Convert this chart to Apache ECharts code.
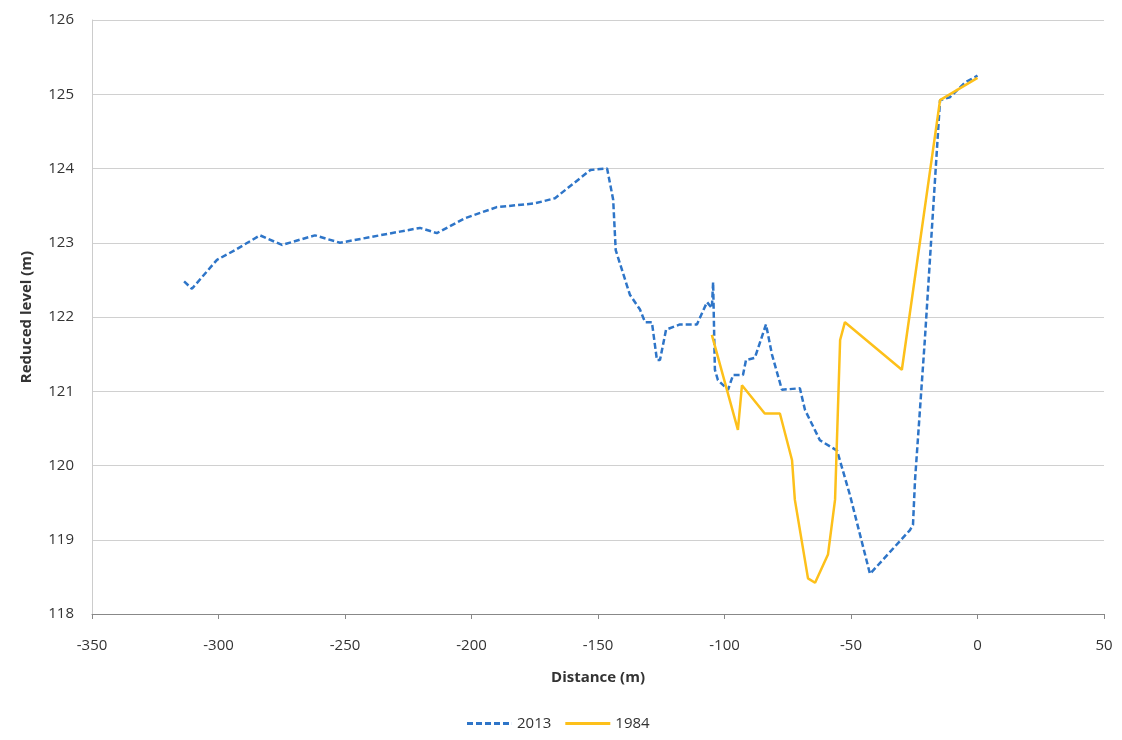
<!DOCTYPE html>
<html><head><meta charset="utf-8">
<script src="https://cdn.jsdelivr.net/npm/echarts@6/dist/echarts.min.js"></script>
<style>body{margin:0}#c{width:1122px;height:740px}</style>
</head><body><div id="c"></div>
<script>
const dist2013 = [-313.6,-310.5,-300.6,-293.5,-283.6,-274.9,-261.9,-252,-228.3,-220.4,-213.7,-202.6,-190,-175,-167,-153,-146.4,-144,-143,-137.4,-133.4,-131.4,-128.7,-126.7,-125.5,-123.1,-117.6,-110.9,-106.9,-105,-104.5,-103.8,-102.6,-98.6,-96.6,-92.7,-91.5,-88,-83.6,-81.2,-77.3,-70.2,-68.2,-62.3,-55.5,-50.4,-42.5,-26.7,-25.5,-24.7,-20.8,-14.8,-10.9,-4.9,0];
const level2013 = [122.48,122.38,122.77,122.9,123.1,122.97,123.1,123.0,123.15,123.2,123.13,123.33,123.48,123.53,123.6,123.98,124.0,123.58,122.9,122.3,122.1,121.93,121.93,121.42,121.42,121.83,121.9,121.9,122.2,122.12,122.47,121.29,121.15,121.02,121.22,121.22,121.42,121.45,121.9,121.49,121.02,121.04,120.75,120.34,120.2,119.6,118.54,119.13,119.2,119.8,121.7,124.92,124.96,125.16,125.25];
const dist1984 = [-105,-94.7,-93.1,-84.1,-78.1,-73.3,-72.2,-67,-64.2,-59.1,-56.3,-54.3,-52.4,-29.9,-14.8,0];
const level1984 = [121.76,120.48,121.08,120.7,120.7,120.07,119.54,118.48,118.42,118.8,119.54,121.69,121.93,121.29,124.92,125.22];

const chart = echarts.init(document.getElementById('c'));
const lbl = {color:'#333', fontSize:15, fontFamily:'Open Sans'};
chart.setOption({
  animation:false,
  grid:{left:92, right:18, top:20, bottom:126},
  legend:{bottom:4, left:462, itemWidth:45, itemHeight:3, itemGap:14, textStyle:lbl,
    data:[{name:'2013', icon:'path://M0,0h6v3h-6zM9,0h6v3h-6zM18,0h6v3h-6zM27,0h6v3h-6zM36,0h6v3h-6zM44.9,0h0.1v3h-0.1z'},
          {name:'1984', icon:'rect'}]},
  xAxis:{type:'value', min:-350, max:50, interval:50,
    name:'Distance (m)', nameLocation:'middle', nameGap:56,
    nameTextStyle:{...lbl, fontWeight:'bold'},
    axisLabel:{...lbl, margin:24}, splitLine:{show:false},
    axisLine:{lineStyle:{color:'#888'}}, axisTick:{show:true, length:5, lineStyle:{color:'#888'}}},
  yAxis:{type:'value', min:118, max:126, interval:1,
    name:'Reduced level (m)', nameLocation:'middle', nameGap:58,
    nameTextStyle:{...lbl, fontWeight:'bold'},
    axisLabel:{...lbl, margin:18},
    axisLine:{show:true, onZero:false, lineStyle:{color:'#ccc'}}, axisTick:{show:false},
    splitLine:{lineStyle:{color:'#d0d0d0'}}},
  series:[
    {name:'2013', type:'line', showSymbol:false, color:'#2e75c8',
     lineStyle:{width:2.5, type:[6,3]}, data:dist2013.map((d,i)=>[d,level2013[i]])},
    {name:'1984', type:'line', showSymbol:false, color:'#fdc01a',
     lineStyle:{width:2.5}, data:dist1984.map((d,i)=>[d,level1984[i]])}
  ]
});
</script></body></html>
